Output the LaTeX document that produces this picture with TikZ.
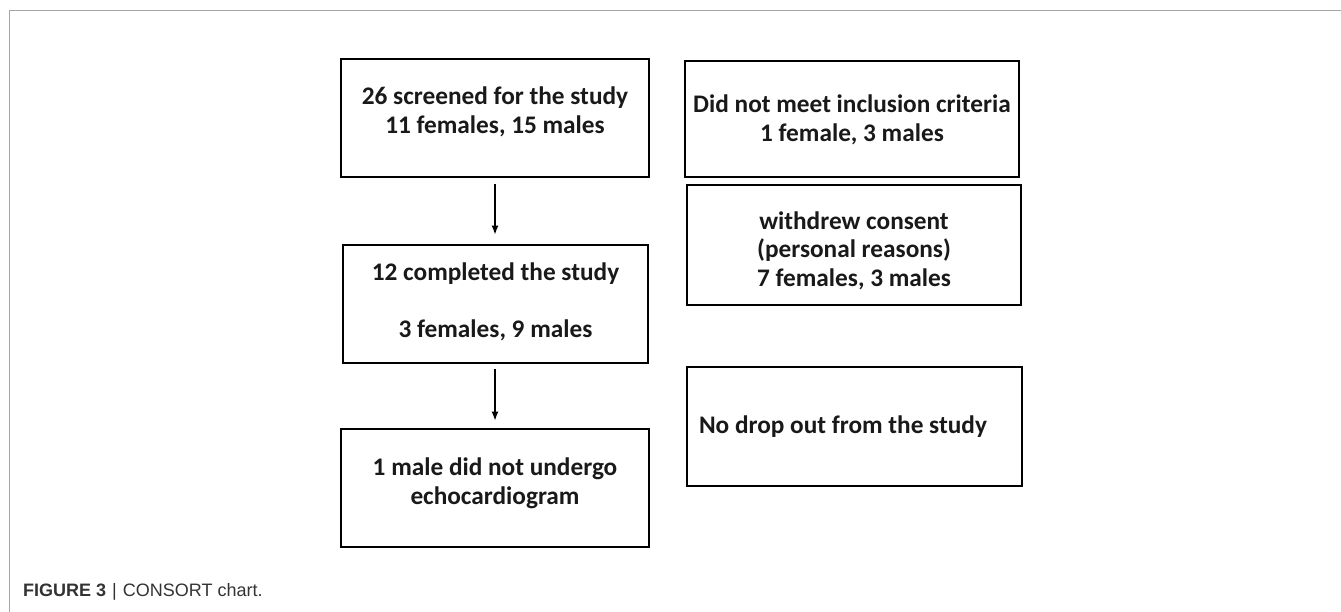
\documentclass[tikz,border=0pt]{standalone}
\usepackage{fontspec}
\setmainfont{Carlito}
\newfontfamily\capfont{Liberation Sans}
\usetikzlibrary{arrows.meta}
\newcommand{\boxtext}[2]{\raisebox{#1}[0pt][0pt]{\begin{tabular}{@{}c@{}}#2\end{tabular}}}
\begin{document}
\begin{tikzpicture}[x=1pt,y=-1pt,
  flowbox/.style={draw=black, line width=2.8pt, rectangle, inner sep=0pt,
    font=\fontsize{25.3}{28.5}\selectfont\bfseries, text=black!90},
  flowarrow/.style={line width=1.4pt, -{Latex[length=9pt,width=7pt]}},
  frameline/.style={draw=black!35, line width=1.3pt}
]
\useasboundingbox (0,0) rectangle (1341,612);
\draw[frameline] (9.5,612) -- (9.5,10.5) -- (1341,10.5);

\node[flowbox, minimum width=308pt, minimum height=118pt] (b1) at (495,118)
  {\boxtext{-1.5pt}{26 screened for the study\\11 females, 15 males}};
\node[flowbox, minimum width=305pt, minimum height=118pt] (b2) at (495.5,304)
  {\boxtext{-5.5pt}{12 completed the study\\[29pt]3 females, 9 males}};
\node[flowbox, minimum width=308pt, minimum height=118pt] (b3) at (495,488)
  {\boxtext{-2.5pt}{1 male did not undergo\\echocardiogram}};

\node[flowbox, minimum width=334pt, minimum height=116pt] (r1) at (852,119)
  {\boxtext{-8.5pt}{Did not meet inclusion criteria\\1 female, 3 males}};
\node[flowbox, minimum width=334pt, minimum height=120pt] (r2) at (854,245)
  {\boxtext{-13.5pt}{withdrew consent\\(personal reasons)\\7 females, 3 males}};
\node[flowbox, minimum width=335pt, minimum height=119pt, align=left,
  text width=311pt] (r3) at (854.5,426.5)
  {\spaceskip=0pt\xspaceskip=0pt No drop out from the study};

\draw[flowarrow, shorten <=6pt, shorten >=9pt] (b1.south -| 495,0) -- (b2.north -| 495,0);
\draw[flowarrow, shorten <=5pt, shorten >=7pt] (b2.south -| 495,0) -- (b3.north -| 495,0);

\node[anchor=base west, inner sep=0pt, text=black!80, font=\capfont\fontsize{18}{20}\selectfont] (cap) at (23,596)
  {\textbf{FIGURE 3}\,\,|\,\,CONSORT chart.};
\end{tikzpicture}
\end{document}
